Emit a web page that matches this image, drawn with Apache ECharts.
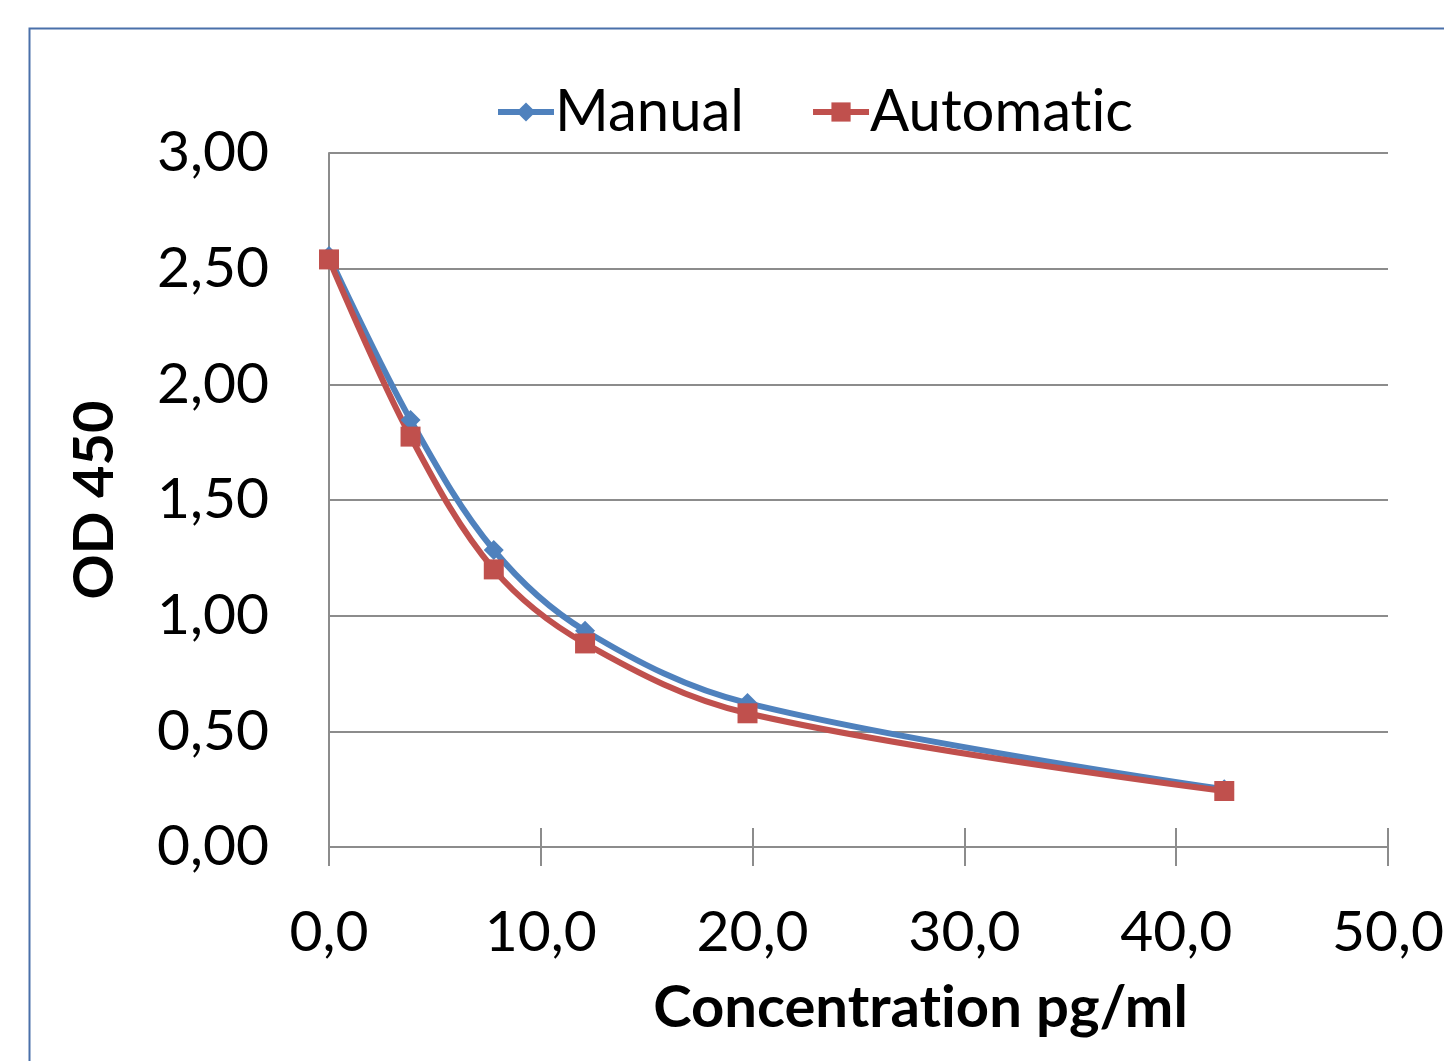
<!DOCTYPE html>
<html lang="en">
<head>
    <meta charset="UTF-8">
    <title>OD 450 vs Concentration</title>
    <script src="https://cdn.jsdelivr.net/npm/echarts@6/dist/echarts.min.js"></script>
    <style>
        html, body { margin: 0; padding: 0; background: #fff; }
    </style>
</head>
<body>
<div id="main" style="width: 1444px;height:1061px;"></div>
<script type="text/javascript">
    // data
    var concentration = [0, 3.85, 7.78, 12.09, 19.76, 42.27];
    var manual = [2.555, 1.846, 1.284, 0.935, 0.622, 0.25];
    var automatic = [2.54, 1.774, 1.20, 0.88, 0.578, 0.242];
    var seriesNames = ["Manual", "Automatic"];

    function pairs(xs, ys) {
        var out = [];
        for (var i = 0; i < xs.length; i++) {
            out.push([xs[i], ys[i]]);
        }
        return out;
    }

    function comma(v, digits) {
        return v.toFixed(digits).replace(".", ",");
    }

    // keep "t" and "i" as separate glyphs (Lato joins them otherwise)
    function noLig(s) {
        return s.replace(/ti/g, "t\u200Ci");
    }

    var font = "Lato";
    var myChart = echarts.init(document.getElementById("main"));

    var option = {
        backgroundColor: "#fff",
        animation: false,
        textStyle: {fontFamily: font},
        graphic: [{
            type: "rect",
            left: 27,
            top: 26,
            shape: {width: 1500, height: 1100},
            style: {fill: null, stroke: "#4a70aa", lineWidth: 2},
            z: -1
        }],
        legend: {
            top: 78,
            left: 490,
            itemWidth: 56,
            itemHeight: 24,
            itemGap: 66,
            lineStyle: {width: 6},
            formatter: noLig,
            textStyle: {fontSize: 58, color: "#000", fontFamily: font, padding: [0, 0, 0, -4]},
            data: seriesNames
        },
        grid: {left: 329, top: 153, right: 56, bottom: 214, outerBoundsMode: "none"},
        xAxis: [{
            type: "value",
            min: 0,
            max: 50,
            interval: 10,
            name: noLig("Concentration pg/ml"),
            nameLocation: "middle",
            nameGap: 132,
            nameTextStyle: {fontSize: 58, fontWeight: "bold", color: "#000", padding: [0, 0, 0, 124]},
            axisLine: {lineStyle: {color: "#8c8c8c", width: 2}},
            axisTick: {show: true, length: 19, lineStyle: {color: "#8c8c8c", width: 2}},
            axisLabel: {
                fontSize: 57, color: "#000", margin: 57,
                formatter: function (v) { return comma(v, 1); }
            },
            splitLine: {show: false}
        }, {
            // upper half of the crossing tick marks
            type: "value",
            position: "bottom",
            min: 0,
            max: 50,
            interval: 10,
            axisLine: {show: false},
            axisTick: {show: true, inside: true, length: 19, lineStyle: {color: "#8c8c8c", width: 2}},
            axisLabel: {show: false},
            splitLine: {show: false}
        }],
        yAxis: {
            type: "value",
            min: 0,
            max: 3,
            interval: 0.5,
            name: "OD 450",
            nameLocation: "middle",
            nameGap: 206,
            nameTextStyle: {fontSize: 56, fontWeight: "bold", color: "#000"},
            axisLine: {show: true, lineStyle: {color: "#8c8c8c", width: 2}},
            axisTick: {show: false},
            axisLabel: {
                fontSize: 57, color: "#000", margin: 60,
                formatter: function (v) { return comma(v, 2); }
            },
            splitLine: {lineStyle: {color: "#8c8c8c", width: 2}}
        },
        series: [
            {
                name: seriesNames[0],
                type: "line",
                smooth: 0.35,
                symbol: "diamond",
                symbolSize: 20,
                itemStyle: {color: "#4f81bd"},
                lineStyle: {color: "#4f81bd", width: 6},
                data: pairs(concentration, manual)
            },
            {
                name: seriesNames[1],
                type: "line",
                smooth: 0.35,
                symbol: "rect",
                symbolSize: 20,
                itemStyle: {color: "#c0504d"},
                lineStyle: {color: "#c0504d", width: 6},
                data: pairs(concentration, automatic)
            }
        ]
    };

    myChart.setOption(option);
</script>
</body>
</html>
